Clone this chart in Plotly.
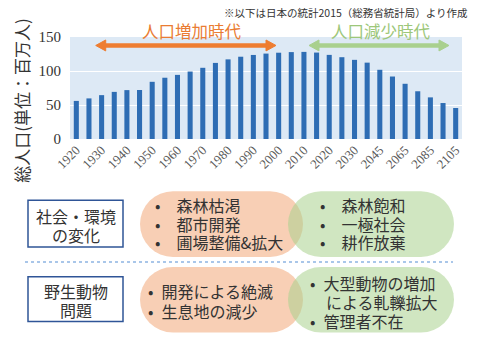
import math
import plotly.graph_objects as go

# ---------------- data ----------------
years = ["1920", "1925", "1930", "1935", "1940", "1945", "1950", "1955", "1960", "1965",
         "1970", "1975", "1980", "1985", "1990", "1995", "2000", "2005", "2010", "2015",
         "2020", "2025", "2030", "2035", "2045", "2055", "2065", "2075", "2085", "2095", "2105"]
population = [56.0, 59.7, 64.5, 69.3, 71.9, 72.1, 84.1, 90.1, 94.3, 99.2,
              104.7, 111.9, 117.1, 121.0, 123.6, 125.6, 126.9, 127.8, 128.1, 127.1,
              123.7, 120.3, 116.4, 112.3, 101.8, 91.9, 81.2, 70.2, 61.2, 52.9, 45.6]
tick_labels = ["1920", "1930", "1940", "1950", "1960", "1970", "1980", "1990", "2000", "2010",
               "2020", "2030", "2045", "2065", "2085", "2105"]
y_ticks = [0, 50, 100, 150]

title_note = "※以下は日本の統計2015（総務省統計局）より作成"
y_title = "総人口(単位：百万人)"
era_up = "人口増加時代"
era_down = "人口減少時代"
row1_label = ["社会・環境", "の変化"]
row2_label = ["野生動物", "問題"]
row1_up = ["森林枯渇", "都市開発", "圃場整備&amp;拡大"]
row1_down = ["森林飽和", "一極社会", "耕作放棄"]
row2_up = ["開発による絶滅", "生息地の減少"]
row2_down = ["大型動物の増加", "による軋轢拡大", "管理者不在"]
row2_down_bullets = [True, False, True]

# ---------------- layout geometry (pixels) ----------------
W, H = 480, 342
L, R, T, B = 70, 462, 37, 139.5   # plot area in pixels

def px(x):
    return (x - L) / (R - L)
def py(y):
    return (B - y) / (B - T)

JP = "Noto Sans CJK JP, Noto Sans CJK SC, sans-serif"
SERIF = "Liberation Serif, DejaVu Serif, serif"
TXT = "#333333"

fig = go.Figure()
fig.add_trace(go.Bar(x=years, y=population, marker=dict(color="#2E6DB4", line=dict(width=0)),
                     width=0.4, hoverinfo="x+y"))

shapes = []
annotations = []

def capsule(x0, x1, y0, y1, n=16):
    r = (y1 - y0) / 2
    cy = (y0 + y1) / 2
    pts = []
    for i in range(n + 1):
        a = -math.pi / 2 + math.pi * i / n
        pts.append((x1 - r + r * math.cos(a), cy + r * math.sin(a)))
    for i in range(n + 1):
        a = math.pi / 2 + math.pi * i / n
        pts.append((x0 + r + r * math.cos(a), cy + r * math.sin(a)))
    return "M " + " L ".join(f"{px(a):.4f},{py(b):.4f}" for a, b in pts) + " Z"

def arrow(x0, x1, y, color, lw=4.5, hl=10, hh=5.5):
    shapes.append(dict(type="line", xref="paper", yref="paper",
                       x0=px(x0 + hl - 1), x1=px(x1 - hl + 1), y0=py(y), y1=py(y),
                       line=dict(color=color, width=lw)))
    for tip, base in ((x0, x0 + hl), (x1, x1 - hl)):
        d = (f"M {px(tip):.4f},{py(y):.4f} L {px(base):.4f},{py(y - hh):.4f} "
             f"L {px(base):.4f},{py(y + hh):.4f} Z")
        shapes.append(dict(type="path", xref="paper", yref="paper", path=d,
                           fillcolor=color, line=dict(color=color, width=1)))

def text(x, y, s, size=16, color=TXT, xanchor="left", angle=0, family=JP):
    annotations.append(dict(x=px(x), y=py(y), xref="paper", yref="paper", text=s,
                            showarrow=False, xanchor=xanchor, yanchor="middle",
                            textangle=angle,
                            font=dict(family=family, size=size, color=color)))

# era arrows and labels
arrow(95.7, 276, 45.5, "#EE7D31")
arrow(309, 449, 45.5, "#A9D08E")
text(192, 31, era_up, size=16.5, color="#EA7C33", xanchor="center")
text(381, 31, era_down, size=16.5, color="#9DC77A", xanchor="center")
text(470, 12, title_note, size=10.5, color=TXT, xanchor="right")
text(22, 101, y_title, size=17, color=TXT, xanchor="center", angle=-90)

# pills
ORANGE = "#F8CFB5"
GREEN = "rgba(169,209,142,0.55)"
for (y0, y1) in ((192, 258), (268, 334)):
    shapes.append(dict(type="path", xref="paper", yref="paper", path=capsule(140, 303, y0, y1),
                       fillcolor=ORANGE, line=dict(width=0)))
    shapes.append(dict(type="path", xref="paper", yref="paper", path=capsule(288, 454, y0, y1),
                       fillcolor=GREEN, line=dict(width=0)))

# label boxes
for (y0, y1) in ((201, 248), (278, 323)):
    shapes.append(dict(type="rect", xref="paper", yref="paper", x0=px(28), x1=px(123),
                       y0=py(y0), y1=py(y1), line=dict(color="#2F5597", width=1.5),
                       fillcolor="white"))
text(75.5, 217, row1_label[0], xanchor="center")
text(75.5, 235.5, row1_label[1], xanchor="center")
text(75.5, 292, row2_label[0], xanchor="center")
text(75.5, 311.5, row2_label[1], xanchor="center")

# dotted separator
shapes.append(dict(type="line", xref="paper", yref="paper", x0=px(25), x1=px(453),
                   y0=py(263), y1=py(263), line=dict(color="#8DB4E2", width=1.5, dash="dot")))

# pill texts (bullet + text on one line)
ys1 = [206, 224.5, 243]
for y, s in zip(ys1, row1_up):
    text(153, y, "•\u2003" + s)
for y, s in zip(ys1, row1_down):
    text(318, y, "•\u2003" + s)
for y, s in zip([292, 312], row2_up):
    text(146, y, "•\u2002" + s)
for y, s, b in zip([284, 303.5, 322], row2_down, row2_down_bullets):
    text(308, y, ("•\u2002" if b else "\u2002\u2002") + s)

fig.update_layout(
    width=W, height=H, margin=dict(l=L, r=W - R, t=T, b=H - B, pad=0),
    paper_bgcolor="white", plot_bgcolor="#DDE9F5",
    font=dict(family=SERIF),
    showlegend=False, bargap=0.6,
    shapes=shapes, annotations=annotations,
)
fig.update_yaxes(range=[0, 150], tickvals=y_ticks,
                 tickfont=dict(family=SERIF, size=15, color=TXT),
                 showgrid=True, gridcolor="white", gridwidth=1.2,
                 zeroline=False, showline=False, ticks="outside", ticklen=5,
                 tickcolor="rgba(0,0,0,0)", automargin=False)
fig.update_xaxes(type="category", range=[-0.5, len(years) - 0.5],
                 tickmode="array", tickvals=tick_labels, ticktext=tick_labels,
                 tickangle=-45, tickfont=dict(family=SERIF, size=13, color="#595959"),
                 showgrid=False, showline=False, ticks="", automargin=False)

fig.write_html("out.html")
